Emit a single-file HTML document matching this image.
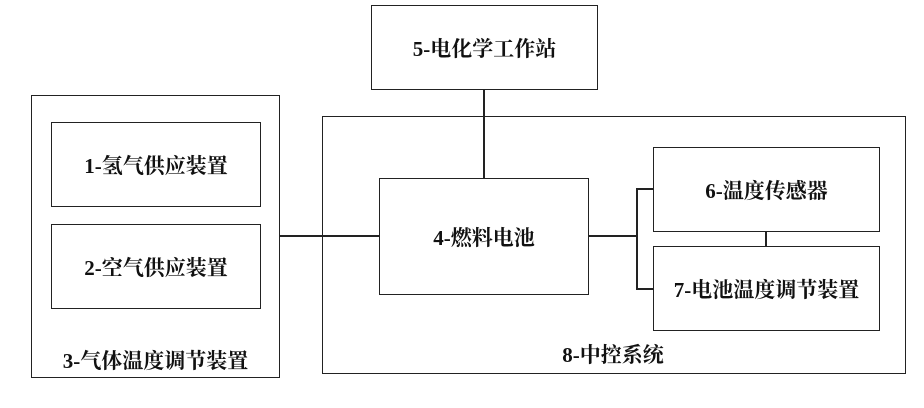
<!DOCTYPE html>
<html><head><meta charset="utf-8"><style>
html,body{margin:0;padding:0;background:#fff;}
body{width:924px;height:408px;position:relative;overflow:hidden;font-family:"Liberation Serif","Noto Serif CJK SC",serif;font-weight:bold;}
.b{position:absolute;border:1.5px solid #222;box-sizing:border-box;display:flex;align-items:center;justify-content:center;font-size:21px;color:#111;}
.l{position:absolute;background:#222;}
.t{position:absolute;font-size:21px;color:#111;text-align:center;}
</style></head><body>
<div class="b" style="left:31px;top:95px;width:249px;height:283px;"></div>
<div class="b" style="left:51px;top:122px;width:210px;height:85px;">1-氢气供应装置</div>
<div class="b" style="left:51px;top:224px;width:210px;height:85px;">2-空气供应装置</div>
<div class="t" style="left:31px;top:345px;width:249px;">3-气体温度调节装置</div>
<div class="b" style="left:322px;top:116px;width:584px;height:258px;"></div>
<div class="t" style="left:500px;top:339px;width:226px;">8-中控系统</div>
<div class="b" style="left:371px;top:5px;width:227px;height:85px;">5-电化学工作站</div>
<div class="b" style="left:379px;top:178px;width:210px;height:117px;">4-燃料电池</div>
<div class="b" style="left:653px;top:147px;width:227px;height:85px;">6-温度传感器</div>
<div class="b" style="left:653px;top:246px;width:227px;height:85px;">7-电池温度调节装置</div>
<div class="l" style="left:483px;top:90px;width:2px;height:88px;"></div>
<div class="l" style="left:280px;top:235px;width:99px;height:2px;"></div>
<div class="l" style="left:589px;top:235px;width:48px;height:2px;"></div>
<div class="l" style="left:636px;top:188px;width:2px;height:102px;"></div>
<div class="l" style="left:636px;top:188px;width:17px;height:2px;"></div>
<div class="l" style="left:636px;top:288px;width:17px;height:2px;"></div>
<div class="l" style="left:765px;top:232px;width:2px;height:14px;"></div>
</body></html>
